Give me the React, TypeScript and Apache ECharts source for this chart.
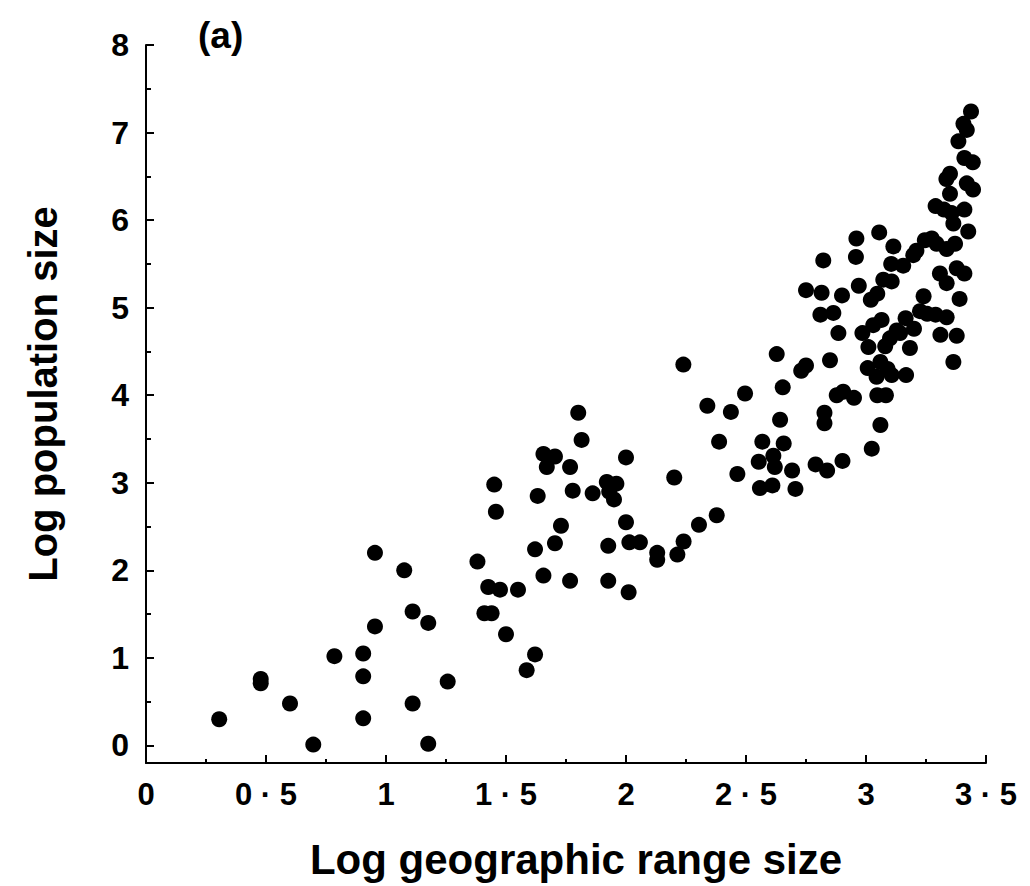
import React, { useEffect, useRef } from "react";
import * as echarts from "echarts";

const rangeSize: number[] = [
  0.305, 0.478, 0.478, 0.6, 0.697, 0.785, 0.905, 0.905, 0.905, 0.954,
  0.954, 1.076, 1.111, 1.176, 1.111, 1.176, 1.257, 1.41, 1.44, 1.5,
  1.586, 1.621, 1.381, 1.426, 1.475, 1.55, 1.451, 1.458, 1.801, 1.815,
  1.656, 1.704, 1.67, 1.767, 2.0, 1.632, 1.778, 1.861, 1.92, 1.96,
  1.93, 1.95, 2.0, 1.729, 1.704, 1.621, 1.926, 2.014, 2.058, 2.13,
  2.13, 2.214, 2.24, 2.304, 2.378, 1.656, 1.767, 1.926, 2.011, 2.239,
  2.339, 2.437, 2.496, 2.388, 2.201, 2.464,
  2.628, 2.75, 2.73, 2.653, 2.85, 2.642, 2.568, 2.657, 2.614, 2.62,
  2.553, 2.692, 2.558, 2.61, 2.706, 2.79, 2.838, 2.902, 3.024, 3.06,
  2.827, 2.827, 2.878, 2.905, 2.95, 3.047, 3.083, 3.007, 3.044, 3.107,
  3.167, 3.01, 2.985, 2.885, 3.03, 3.065, 3.08, 3.1, 3.128, 3.06,
  3.09, 3.142, 3.183, 3.2, 3.165, 3.225, 3.255, 3.29, 3.336, 3.31,
  3.378, 3.364, 3.24, 3.39, 3.336, 3.308, 3.378, 3.41, 2.75, 2.815,
  2.9, 2.97, 3.02, 3.047, 3.072, 3.107, 3.105, 2.81, 2.864, 2.822,
  2.96, 2.958, 3.055, 3.114, 3.155, 3.197, 3.21, 3.245, 3.274, 3.294,
  3.336, 3.371, 3.364, 3.426, 3.29, 3.325, 3.357, 3.41, 3.35, 3.42,
  3.446, 3.35, 3.335, 3.41, 3.445, 3.385, 3.42, 3.406, 3.4375
];

const populationSize: number[] = [
  0.3, 0.76, 0.71, 0.48, 0.01, 1.02, 1.05, 0.79, 0.31, 1.36,
  2.2, 2.0, 1.53, 1.4, 0.48, 0.02, 0.73, 1.51, 1.51, 1.27,
  0.86, 1.04, 2.1, 1.81, 1.78, 1.78, 2.98, 2.67, 3.8, 3.49,
  3.33, 3.3, 3.18, 3.18, 3.29, 2.85, 2.91, 2.88, 3.01, 2.99,
  2.9, 2.81, 2.55, 2.51, 2.31, 2.24, 2.28, 2.32, 2.32, 2.2,
  2.12, 2.18, 2.33, 2.52, 2.63, 1.94, 1.88, 1.88, 1.75, 4.35,
  3.88, 3.81, 4.02, 3.47, 3.06, 3.1,
  4.47, 4.34, 4.28, 4.09, 4.4, 3.72, 3.47, 3.45, 3.31, 3.18,
  3.24, 3.14, 2.94, 2.97, 2.93, 3.21, 3.14, 3.25, 3.39, 3.66,
  3.8, 3.68, 4.0, 4.04, 3.97, 4.0, 4.0, 4.31, 4.21, 4.23,
  4.23, 4.55, 4.71, 4.71, 4.8, 4.86, 4.56, 4.65, 4.74, 4.38,
  4.3, 4.71, 4.54, 4.76, 4.88, 4.96, 4.93, 4.92, 4.89, 4.69,
  4.68, 4.38, 5.13, 5.1, 5.28, 5.39, 5.45, 5.39, 5.2, 5.17,
  5.14, 5.25, 5.09, 5.16, 5.32, 5.3, 5.5, 4.92, 4.94, 5.54,
  5.79, 5.58, 5.86, 5.7, 5.48, 5.6, 5.65, 5.77, 5.79, 5.73,
  5.67, 5.73, 5.96, 5.87, 6.16, 6.12, 6.08, 6.12, 6.3, 6.42,
  6.35, 6.53, 6.47, 6.71, 6.66, 6.9, 7.03, 7.1, 7.24
];

const yMajorTicks: number[] = [0, 1, 2, 3, 4, 5, 6, 7, 8];
const yMinorTicks: number[] = [0.5, 1.5, 2.5, 3.5, 4.5, 5.5, 6.5, 7.5];

const FONT = "'Liberation Sans', Arial, Helvetica, sans-serif";

export default function App() {
  const ref = useRef<HTMLDivElement>(null);
  useEffect(() => {
    if (!ref.current) return;
    const chart = echarts.init(ref.current, null, { renderer: "svg" });
    const data = rangeSize.map((x, i) => [x, populationSize[i]]);
    chart.setOption({
      animation: false,
      backgroundColor: "#fff",
      title: {
        text: "(a)",
        left: 193,
        top: 12,
        textStyle: { fontFamily: FONT, fontWeight: "bold", fontSize: 37, color: "#000" },
      },
      grid: { left: 146, right: 44, top: 45, bottom: 123, containLabel: false },
      xAxis: {
        type: "value",
        min: 0,
        max: 3.5,
        interval: 0.5,
        name: "Log geographic range size",
        nameLocation: "middle",
        nameGap: 75,
        nameTextStyle: {
          fontFamily: FONT,
          fontWeight: "bold",
          fontSize: 42,
          color: "#000",
          padding: [0, 0, 0, 20],
        },
        axisLine: { show: true, onZero: false, lineStyle: { color: "#000", width: 2 } },
        axisTick: { show: true, inside: true, length: 8, lineStyle: { color: "#000", width: 2 } },
        minorTick: { show: true, splitNumber: 2, length: 4, lineStyle: { color: "#000", width: 2 } },
        splitLine: { show: false },
        minorSplitLine: { show: false },
        axisLabel: {
          margin: 16,
          fontFamily: FONT,
          fontWeight: "bold",
          fontSize: 31,
          color: "#000",
          formatter: (v: number) => (Number.isInteger(v) ? String(v) : String(v).replace(".", " · ")),
        },
      },
      yAxis: [
        {
          type: "value",
          min: -0.2,
          max: 8,
          name: "Log population size",
          nameLocation: "middle",
          nameGap: 83,
          nameTextStyle: {
            fontFamily: FONT,
            fontWeight: "bold",
            fontSize: 40,
            color: "#000",
            padding: [0, 0, 0, 20],
          },
          axisLine: { show: true, onZero: false, lineStyle: { color: "#000", width: 2 } },
          axisTick: {
            show: true,
            inside: true,
            length: 8,
            customValues: yMajorTicks,
            lineStyle: { color: "#000", width: 2 },
          },
          axisLabel: {
            show: true,
            margin: 17,
            customValues: yMajorTicks,
            fontFamily: FONT,
            fontWeight: "bold",
            fontSize: 32,
            color: "#000",
          },
          splitLine: { show: false },
        },
        {
          type: "value",
          min: -0.2,
          max: 8,
          position: "left",
          offset: 0,
          axisLine: { show: false, onZero: false },
          axisTick: {
            show: true,
            inside: true,
            length: 5,
            customValues: yMinorTicks,
            lineStyle: { color: "#000", width: 2 },
          },
          axisLabel: { show: false },
          splitLine: { show: false },
        },
      ],
      series: [
        {
          type: "scatter",
          data,
          symbol: "circle",
          symbolSize: 16,
          itemStyle: { color: "#000", opacity: 1 },
        },
      ],
    });
    return () => chart.dispose();
  }, []);
  return (
    <div
      ref={ref}
      style={{ position: "absolute", left: 0, top: 0, width: 1030, height: 886, background: "#fff" }}
    />
  );
}
